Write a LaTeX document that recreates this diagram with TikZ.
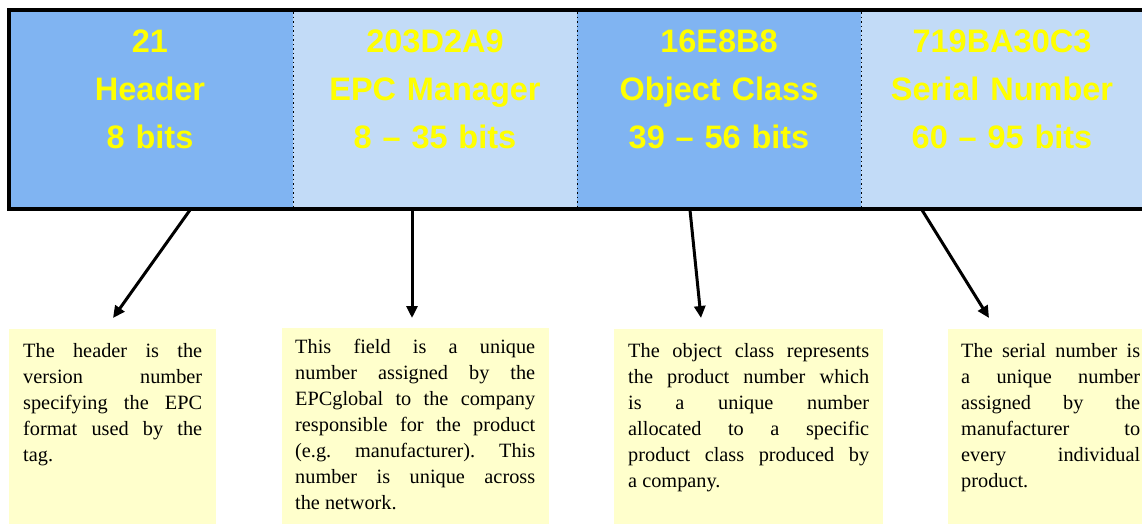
\documentclass[tikz,border=0pt]{standalone}
\usepackage{fontspec}
\setmainfont{Liberation Serif}
\newfontfamily\arialfont{Liberation Sans}
\usetikzlibrary{arrows.meta}
\definecolor{darkcell}{RGB}{128,180,242}
\definecolor{lightcell}{RGB}{194,219,247}
\definecolor{notebox}{RGB}{255,255,204}
\definecolor{celltextcol}{RGB}{255,255,0}
\tikzset{
  cellbox/.style={draw=none, minimum width=284pt, minimum height=195pt, inner sep=0pt, anchor=north west},
  celltext/.style={text=celltextcol, font={\arialfont\bfseries\fontsize{32.5}{48}\selectfont}, text width=280pt, align=center, inner sep=0pt, anchor=base},
  notefill/.style={fill=notebox, draw=none, minimum height=200pt, inner sep=0pt, anchor=north west},
  notetext/.style={font={\fontsize{20.3}{26}\selectfont}, inner sep=0pt, anchor=base west, align=justify},
  sep/.style={line width=1.5pt, dash pattern=on 1.5pt off 3pt},
  pointer/.style={line width=3pt, -{Triangle[length=12pt,width=11pt]}}
}
\newcommand{\notesetup}{\parindent=0pt\tolerance=10000\hyphenpenalty=10000\emergencystretch=20pt\rightskip=0pt plus 0pt}
\begin{document}
\begin{tikzpicture}[x=1pt,y=-1pt]
\useasboundingbox (0,0) rectangle (1142,523);
\clip (0,0) rectangle (1142,523);
% cells
\node[cellbox, fill=darkcell, minimum width=282pt] (c1) at (11,12) {};
\node[cellbox, fill=lightcell] (c2) at (293,12) {};
\node[cellbox, fill=darkcell] (c3) at (577,12) {};
\node[cellbox, fill=lightcell, minimum width=320pt] (c4) at (861,12) {};
\draw[sep] (c1.north east) -- (c1.south east);
\draw[sep] (c2.north east) -- (c2.south east);
\draw[sep] (c3.north east) -- (c3.south east);
\draw[line width=4pt] (9,10) rectangle (1190,209);
% cell texts
\node[celltext] (t1) at (150,52) {21\\Header\\8 bits};
\node[celltext] (t2) at (435,52) {203D2A9\\EPC Manager\\8 – 35 bits};
\node[celltext] (t3) at (719,52) {16E8B8\\Object Class\\39 – 56 bits};
\node[celltext] (t4) at (1002,52) {719BA30C3\\Serial Number\\60 – 95 bits};
% note boxes
\node[notefill, minimum width=207pt] (b1) at (9,329) {};
\node[notefill, minimum width=267pt] (b2) at (282,328) {};
\node[notefill, minimum width=269pt] (b3) at (614,329) {};
\node[notefill, minimum width=207pt] (b4) at (948,329) {};
\node[notetext, text width=179pt] (n1) at (23,357) {\notesetup The header is the\linebreak version number\linebreak specifying the EPC\linebreak format used by the\linebreak tag.};
\node[notetext, text width=240pt] (n2) at (295,353) {\notesetup This field is a unique\linebreak number assigned by the\linebreak EPCglobal to the company\linebreak responsible for the product\linebreak (e.g. manufacturer). This\linebreak number is unique across\linebreak the network.};
\node[notetext, text width=241pt] (n3) at (628,357) {\notesetup The object class represents\linebreak the product number which\linebreak is a unique number\linebreak allocated to a specific\linebreak product class produced by\linebreak a company.};
\node[notetext, text width=179pt] (n4) at (961,357) {\notesetup The serial number is\linebreak a unique number\linebreak assigned by the\linebreak manufacturer to\linebreak every individual\linebreak product.};
% connectors
\coordinate (s1) at (190,210);
\coordinate (e1) at (113,318);
\coordinate (s2) at (412,210);
\coordinate (e2) at (412,318);
\coordinate (s3) at (690,210);
\coordinate (e3) at (701,318);
\coordinate (s4) at (922,210);
\coordinate (e4) at (989,318);
\draw[pointer] (s1) -- (e1);
\draw[pointer] (s2) -- (e2);
\draw[pointer] (s3) -- (e3);
\draw[pointer] (s4) -- (e4);
\end{tikzpicture}
\end{document}
